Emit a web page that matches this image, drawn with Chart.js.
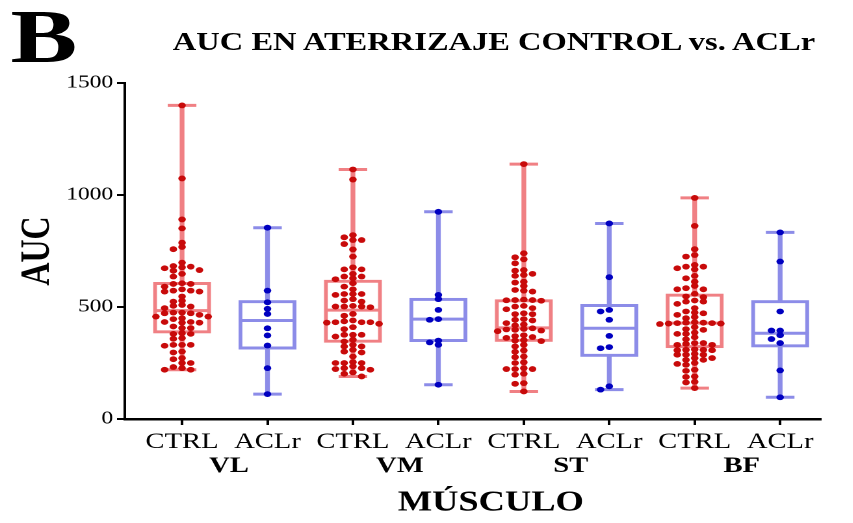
<!DOCTYPE html>
<html>
<head>
<meta charset="utf-8">
<script src="https://cdn.jsdelivr.net/npm/chart.js@4.4.1/dist/chart.umd.min.js"></script>
<style>
  html, body { margin: 0; padding: 0; background: #fff; overflow: hidden; }
  /* the figure is laid out narrow and stretched sideways, like the published panel */
  #figure {
    position: relative; width: 656px; height: 523px;
    transform: scaleX(1.3); transform-origin: 0 0;
    font-family: "Liberation Serif", "Times New Roman", serif; color: #000;
  }
  #panel { position: absolute; left: 8px; top: -2px; font-size: 77px; font-weight: bold; line-height: 1; }
  #title { position: absolute; left: 0; top: 29px; width: 760px; text-align: center; white-space: nowrap;
           font-size: 25px; font-weight: bold; line-height: 1; }
  #chart { position: absolute; left: 0; top: 0; }
</style>
</head>
<body>
<div id="figure">
  <canvas id="chart" width="656" height="523"></canvas>
  <div id="panel">B</div>
  <div id="title">AUC EN ATERRIZAJE CONTROL vs. ACLr</div>
</div>
<script>
const groupLabels = ["CTRL", "ACLr", "CTRL", "ACLr", "CTRL", "ACLr", "CTRL", "ACLr"];
const muscles = ["VL", "VM", "ST", "BF"];
const yTicks = [0, 500, 1000, 1500];

// box summaries, one entry per group (left to right)
const boxMin    = [220, 111, 190, 153, 123, 131, 138, 97];
const boxQ1     = [384, 312, 342, 345, 346, 279, 318, 321];
const boxMedian = [484, 440, 486, 446, 407, 405, 428, 383];
const boxQ3     = [610, 529, 620, 539, 533, 512, 558, 529];
const boxMax    = [1400, 854, 1114, 925, 1138, 873, 987, 833];

// individual subjects
const vlCtrl = [1400, 1074, 891, 851, 787, 768, 758, 698, 683, 680, 677, 673, 665, 662, 648, 636, 606, 603, 603, 591,
  579, 573, 573, 569, 569, 547, 528, 524, 509, 505, 502, 495, 475, 475, 472, 472, 465, 457, 457, 450, 446, 433, 433,
  430, 430, 413, 406, 406, 383, 380, 380, 361, 358, 331, 331, 331, 327, 301, 297, 272, 267, 250, 250, 232, 227, 220, 220];
const vlAclr = [854, 573, 521, 492, 469, 405, 373, 328, 227, 111];
const vmCtrl = [1114, 1069, 821, 811, 799, 799, 781, 757, 725, 677, 668, 668, 648, 636, 636, 628, 624, 606, 591, 579,
  558, 558, 558, 554, 535, 529, 524, 505, 502, 502, 499, 502, 469, 461, 436, 432, 432, 430, 432, 440, 425, 410, 401,
  376, 376, 376, 368, 354, 346, 331, 324, 324, 309, 301, 297, 279, 254, 250, 250, 250, 235, 227, 223, 227, 220, 208, 202, 190];
const vmAclr = [925, 554, 535, 487, 446, 443, 350, 342, 331, 153];
const stCtrl = [1138, 740, 722, 713, 695, 665, 662, 648, 643, 639, 613, 609, 594, 576, 573, 569, 533, 531, 531, 530,
  528, 505, 502, 495, 490, 472, 468, 468, 446, 443, 440, 428, 422, 418, 405, 402, 400, 398, 395, 392,
  374, 370, 366, 362, 352, 350, 348, 331, 324, 306, 300, 279, 276, 253, 250, 227, 223, 223, 223, 202,
  198, 160, 157, 123];
const stAclr = [873, 633, 487, 480, 443, 371, 321, 316, 146, 131];
const bfCtrl = [987, 862, 758, 732, 725, 688, 680, 680, 673, 668, 639, 628, 613, 594, 584, 579, 579, 559, 547, 544,
  529, 524, 524, 514, 495, 480, 475, 472, 465, 455, 450, 432, 430, 430, 428, 428, 426, 426, 424, 410, 401, 398, 386,
  380, 380, 365, 356, 339, 339, 335, 331, 331, 311, 309, 309, 307, 307, 291, 287, 287, 287, 272, 272, 264, 264, 250,
  246, 242, 220, 215, 190, 188, 166, 163, 138];
const bfAclr = [833, 703, 480, 395, 395, 374, 357, 339, 217, 97];

const subjects = [vlCtrl, vlAclr, vmCtrl, vmAclr, stCtrl, stAclr, bfCtrl, bfAclr];

const RED_LINE = "#f08084";
const BLUE_LINE = "#8c8ce8";
const RED_DOT = "#c80a0a";
const BLUE_DOT = "#0000c0";
const SERIF = '"Liberation Serif", "Times New Roman", serif';

const DOT_STEP = 6.7;   // px between swarm columns
const DOT_GAP = 4.2;    // px two dots in one column must keep apart

const positions = groupLabels.map((_, i) => i + 1);
const lineColors = positions.map(p => (p % 2 ? RED_LINE : BLUE_LINE));

Chart.defaults.font.family = SERIF;
Chart.defaults.color = "#000";

function boxData(lo, hi) {
  return positions.map((x, i) => ({ x, y: [lo[i], hi[i]] }));
}
function markData(values) {
  return positions.map((x, i) => ({ x, y: values[i] }));
}

// spread each group's dots sideways so they don't sit on top of each other
function swarm(values, center, xs, ys) {
  const unit = xs.getPixelForValue(1) - xs.getPixelForValue(0);
  const placed = [];
  return values.slice().sort((a, b) => b - a).map(v => {
    const py = ys.getPixelForValue(v);
    let k = 0;
    for (let i = 0; ; i++) {
      k = i === 0 ? 0 : (i % 2 ? -Math.ceil(i / 2) : i / 2);
      if (!placed.some(p => p.k === k && Math.abs(p.py - py) < DOT_GAP)) break;
    }
    placed.push({ k, py });
    return { x: center + (k * DOT_STEP) / unit, y: v };
  });
}

const chart = new Chart(document.getElementById("chart"), {
  type: "bar",
  data: {
    datasets: [
      { type: "bar", data: boxData(boxMin, boxMax), backgroundColor: lineColors, borderWidth: 0,
        barThickness: 3, grouped: false, order: 6 },
      { type: "bar", data: boxData(boxQ1, boxQ3), backgroundColor: "#fff", borderColor: lineColors, borderWidth: 3,
        borderSkipped: false, barThickness: 44, grouped: false, order: 5 },
      { type: "scatter", data: markData(boxMedian), pointStyle: "line", pointRadius: 22, pointHoverRadius: 22,
        borderColor: lineColors, pointBorderWidth: 3, order: 4 },
      { type: "scatter", data: markData(boxMin).concat(markData(boxMax)), pointStyle: "line", pointRadius: 11,
        pointHoverRadius: 11, borderColor: lineColors.concat(lineColors), pointBorderWidth: 3, order: 4 },
      { type: "scatter", data: [], pointRadius: 2.9, pointHoverRadius: 2.9, pointBorderWidth: 0,
        backgroundColor: RED_DOT, order: 1 },
      { type: "scatter", data: [], pointRadius: 2.9, pointHoverRadius: 2.9, pointBorderWidth: 0,
        backgroundColor: BLUE_DOT, order: 1 }
    ]
  },
  options: {
    responsive: false,
    devicePixelRatio: 2,
    animation: false,
    events: [],
    layout: { padding: { left: 0, right: 10, top: 83, bottom: 0 } },
    plugins: { legend: { display: false }, tooltip: { enabled: false } },
    scales: {
      x: {
        type: "linear", position: "bottom", min: 0.33, max: 8.47, offset: false,
        afterBuildTicks: s => { s.ticks = positions.map(value => ({ value })); },
        afterFit: s => { s.height = 34; },
        ticks: { autoSkip: false, maxRotation: 0, minRotation: 0, padding: 4,
                 font: { size: 22 }, callback: (v, i) => groupLabels[i] },
        grid: { display: true, drawOnChartArea: false, drawTicks: true, tickLength: 6, color: "#000",
                lineWidth: 2, offset: false },
        border: { display: true, color: "#000", width: 2.5 }
      },
      x2: {
        type: "linear", position: "bottom", weight: 1, min: 0.33, max: 8.47, offset: false,
        afterBuildTicks: s => { s.ticks = [1.55, 3.55, 5.55, 7.55].map(value => ({ value })); },
        afterFit: s => { s.height = 70; },
        ticks: { autoSkip: false, maxRotation: 0, minRotation: 0, padding: 0,
                 font: { size: 22, weight: "bold" }, callback: (v, i) => muscles[i] },
        grid: { display: false, drawTicks: false },
        border: { display: false },
        title: { display: true, text: "\u2003MÚSCULO", font: { size: 28, weight: "bold" },
                 padding: { top: 0, bottom: 3 } }
      },
      y: {
        type: "linear", min: 0, max: 1500,
        afterBuildTicks: s => { s.ticks = yTicks.map(value => ({ value })); },
        afterFit: s => { s.width = 96; },
        ticks: { padding: 3, font: { size: 18 }, callback: v => String(v) },
        grid: { display: true, drawOnChartArea: false, drawTicks: true, tickLength: 6, color: "#000", lineWidth: 2 },
        border: { display: true, color: "#000", width: 2 },
        title: { display: true, text: "AUC", font: { size: 32, weight: "bold" }, padding: { top: 10, bottom: 0 } }
      }
    }
  }
});

const xs = chart.scales.x, ys = chart.scales.y;
const ctrlDots = [], aclrDots = [];
subjects.forEach((vals, i) => {
  const dots = swarm(vals, positions[i], xs, ys);
  (i % 2 ? aclrDots : ctrlDots).push(...dots);
});
chart.data.datasets[4].data = ctrlDots;
chart.data.datasets[5].data = aclrDots;
chart.update("none");
</script>
</body>
</html>
